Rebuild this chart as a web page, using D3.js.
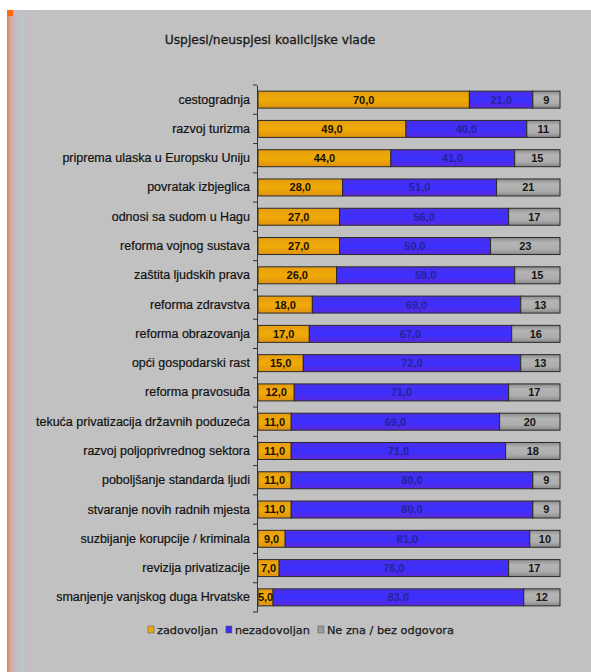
<!DOCTYPE html>
<html>
<head>
<meta charset="utf-8">
<script src="https://cdn.jsdelivr.net/npm/d3@7"></script>
<style>
  html, body { margin: 0; padding: 0; background: #ffffff; }
  svg { display: block; }
</style>
</head>
<body>
<svg id="chart" width="591" height="672"></svg>
<script>
// Survey: how satisfied people are with the coalition government, per policy area (%)
const categories = [
  "cestogradnja",
  "razvoj turizma",
  "priprema ulaska u Europsku Uniju",
  "povratak izbjeglica",
  "odnosi sa sudom u Hagu",
  "reforma vojnog sustava",
  "zaštita ljudskih prava",
  "reforma zdravstva",
  "reforma obrazovanja",
  "opći gospodarski rast",
  "reforma pravosuđa",
  "tekuća privatizacija državnih poduzeća",
  "razvoj poljoprivrednog sektora",
  "poboljšanje standarda ljudi",
  "stvaranje novih radnih mjesta",
  "suzbijanje korupcije / kriminala",
  "revizija privatizacije",
  "smanjenje vanjskog duga Hrvatske"
];
const zadovoljan   = [70, 49, 44, 28, 27, 27, 26, 18, 17, 15, 12, 11, 11, 11, 11, 9, 7, 5];
const nezadovoljan = [21, 40, 41, 51, 56, 50, 59, 69, 67, 72, 71, 69, 71, 80, 80, 81, 76, 83];
const neZna        = [9, 11, 15, 21, 17, 23, 15, 13, 16, 13, 17, 20, 18, 9, 9, 10, 17, 12];

const seriesKeys   = ["zadovoljan", "nezadovoljan", "neZna"];
const seriesLabels = ["zadovoljan", "nezadovoljan", "Ne zna / bez odgovora"];

const rows = categories.map((c, i) => ({
  category: c,
  zadovoljan: zadovoljan[i],
  nezadovoljan: nezadovoljan[i],
  neZna: neZna[i]
}));

const svg = d3.select("#chart");
const defs = svg.append("defs");

// panel background
svg.append("rect").attr("x", 7).attr("y", 10).attr("width", 584).attr("height", 662)
  .attr("fill", "#c1c1c1");

// left edge band with the orange rule
const edge = defs.append("linearGradient").attr("id", "edge").attr("x1", 0).attr("x2", 1);
[["0%", "#e2805e"], ["10%", "#e2a08a"], ["22%", "#c7b7c4"], ["45%", "#bcc6c9"], ["70%", "#c5bdc6"], ["100%", "#c1c1c1"]]
  .forEach(([o, c]) => edge.append("stop").attr("offset", o).attr("stop-color", c));
svg.append("rect").attr("x", 7).attr("y", 10).attr("width", 30).attr("height", 662).attr("fill", "url(#edge)");
svg.append("rect").attr("x", 7).attr("y", 10).attr("width", 6).attr("height", 6).attr("fill", "#ff6a10");

// segment fills
const gOrange = defs.append("linearGradient").attr("id", "gOrange").attr("x1", 0).attr("x2", 0).attr("y1", 0).attr("y2", 1);
[["0%", "#e69c10"], ["50%", "#f0ab06"], ["100%", "#e0920f"]].forEach(([o, c]) => gOrange.append("stop").attr("offset", o).attr("stop-color", c));
const gBlue = defs.append("linearGradient").attr("id", "gBlue").attr("x1", 0).attr("x2", 0).attr("y1", 0).attr("y2", 1);
[["0%", "#4a2ee8"], ["50%", "#3a30ff"], ["100%", "#5a28e0"]].forEach(([o, c]) => gBlue.append("stop").attr("offset", o).attr("stop-color", c));
const gGray = defs.append("linearGradient").attr("id", "gGray").attr("x1", 0).attr("x2", 0).attr("y1", 0).attr("y2", 1);
[["0%", "#8c8c8c"], ["30%", "#b4b4b4"], ["70%", "#adadad"], ["100%", "#888888"]].forEach(([o, c]) => gGray.append("stop").attr("offset", o).attr("stop-color", c));

const fills = { zadovoljan: "url(#gOrange)", nezadovoljan: "url(#gBlue)", neZna: "url(#gGray)" };
const legendFills = { zadovoljan: "#e8a810", nezadovoljan: "#3a30f0", neZna: "#9a9a9a" };
const textFills = { zadovoljan: "#1a1000", nezadovoljan: "#2a2296", neZna: "#151515" };

// title
svg.append("text").attr("x", 270).attr("y", 44).attr("text-anchor", "middle")
  .attr("font-family", "DejaVu Sans, sans-serif").attr("font-size", 12.3)
  .attr("fill", "#1a1a1a").attr("stroke", "#1a1a1a").attr("stroke-width", 0.3)
  .text("Uspjesi/neuspjesi koalicijske vlade");

// scales
const x = d3.scaleLinear().domain([0, 100]).range([258, 560]);
const y = d3.scaleBand().domain(categories).range([85, 612]).paddingInner(0.42).paddingOuter(0.21);

const stacked = d3.stack().keys(seriesKeys)(rows);

const layers = svg.append("g").selectAll("g").data(stacked).join("g")
  .attr("fill", d => fills[d.key]);

layers.selectAll("rect").data(d => d.map(p => ({ p, key: d.key }))).join("rect")
  .attr("x", d => x(d.p[0]))
  .attr("y", d => y(d.p.data.category))
  .attr("width", d => x(d.p[1]) - x(d.p[0]))
  .attr("height", y.bandwidth())
  .attr("stroke", "#2a2a2a").attr("stroke-width", 1);

// value labels inside segments
layers.selectAll("text").data(d => d.map(p => ({ p, key: d.key }))).join("text")
  .attr("x", d => (x(d.p[0]) + x(d.p[1])) / 2)
  .attr("y", d => y(d.p.data.category) + y.bandwidth() / 2)
  .attr("dy", "0.36em")
  .attr("text-anchor", "middle")
  .attr("font-family", "Liberation Sans, Arial, sans-serif")
  .attr("font-size", 11)
  .attr("font-weight", "bold")
  .attr("fill", d => textFills[d.key])
  .text(d => {
    const v = d.p.data[d.key];
    return d.key === "neZna" ? String(v) : v.toFixed(1).replace(".", ",");
  });

// category axis on the left edge of the bars
const axis = d3.axisLeft(y).tickSize(0).tickPadding(7);
const gAxis = svg.append("g").attr("transform", "translate(257,0)").call(axis);
gAxis.select(".domain").attr("stroke", "#333").attr("stroke-width", 1);
gAxis.selectAll("text")
  .attr("font-family", "Liberation Sans, Arial, sans-serif")
  .attr("font-size", 12.5)
  .attr("fill", "#111")
  .attr("stroke", "#111").attr("stroke-width", 0.2);

// tick marks between categories
const step = y.step();
const boundaries = d3.range(categories.length + 1).map(i => 85 + i * step);
svg.append("g").selectAll("line").data(boundaries).join("line")
  .attr("x1", 253).attr("x2", 257)
  .attr("y1", d => d).attr("y2", d => d)
  .attr("stroke", "#333").attr("stroke-width", 1);

// legend: swatch + label, items laid out one after another
const legend = svg.append("g").attr("transform", "translate(148,630)");
let cursor = 0;
seriesKeys.forEach((k, i) => {
  const g = legend.append("g").attr("transform", `translate(${cursor},0)`);
  g.append("rect").attr("x", 0).attr("y", -4).attr("width", 6).attr("height", 7)
    .attr("fill", legendFills[k]).attr("stroke", "#555").attr("stroke-width", 0.5);
  const t = g.append("text").attr("x", 9).attr("y", 0).attr("dy", "0.35em")
    .attr("font-family", "DejaVu Sans, sans-serif").attr("font-size", 11.3)
    .attr("fill", "#1a1a1a").attr("stroke", "#1a1a1a").attr("stroke-width", 0.25)
    .text(seriesLabels[i]);
  cursor += 9 + t.node().getComputedTextLength() + 8;
});
</script>
</body>
</html>
